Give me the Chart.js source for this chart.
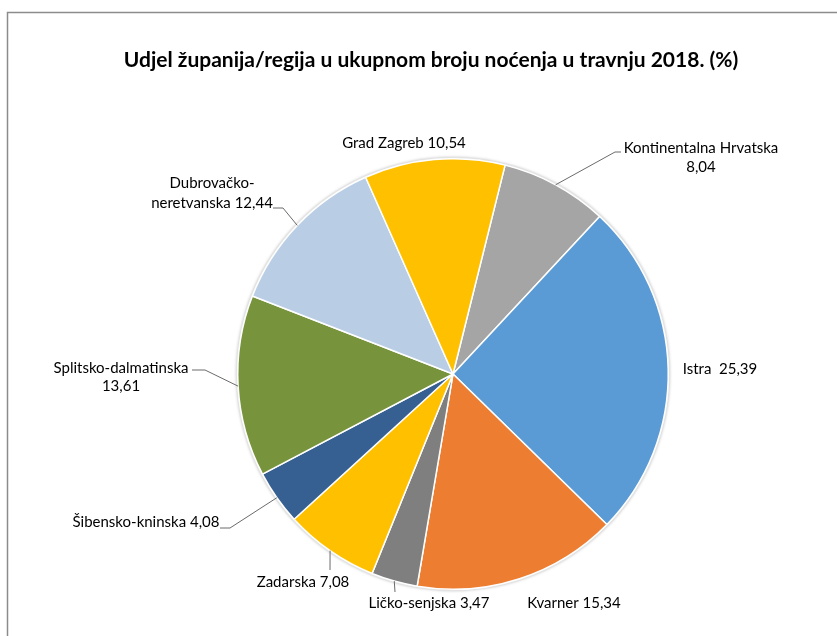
<!DOCTYPE html>
<html>
<head>
<meta charset="utf-8">
<script src="https://cdn.jsdelivr.net/npm/chart.js@4"></script>
<style>
html,body{margin:0;padding:0;background:#fff;}
#wrap{width:837px;height:636px;position:relative;}
</style>
</head>
<body>
<div id="wrap"><canvas id="c" width="837" height="636"></canvas></div>
<script>
// ---- data ----
const categories = ["Kontinentalna Hrvatska","Istra","Kvarner","Ličko-senjska","Zadarska","Šibensko-kninska","Splitsko-dalmatinska","Dubrovačko-neretvanska","Grad Zagreb"];
const shares = [8.04, 25.39, 15.34, 3.47, 7.08, 4.08, 13.61, 12.44, 10.54];
const valueLabels = ["8,04","25,39","15,34","3,47","7,08","4,08","13,61","12,44","10,54"];
const sliceColors = ["#A5A5A5","#5B9BD5","#ED7D31","#7F7F7F","#FFC000","#376092","#77933C","#B9CDE5","#FFC000"];
const titleText = "Udjel županija/regija u ukupnom broju noćenja u travnju 2018. (%)";

// ---- label layout (text placement & leader elbows) ----
const labelLayout = [
  {lines:["Kontinentalna Hrvatska","8,04"], x:701, y:[148,167], leader:[[615,152],[621,152]]},
  {lines:["Istra  25,39"], x:720, y:[369], leader:null},
  {lines:["Kvarner 15,34"], x:574, y:[603], leader:null},
  {lines:["Ličko-senjska 3,47"], x:429, y:[603], leader:[[395,592]]},
  {lines:["Zadarska 7,08"], x:303, y:[582], leader:[[330,570]]},
  {lines:["Šibensko-kninska 4,08"], x:146, y:[522], leader:[[230,528],[220,528]]},
  {lines:["Splitsko-dalmatinska","13,61"], x:121, y:[368,386], leader:[[205,370],[192,370]]},
  {lines:["Dubrovačko-","neretvanska 12,44"], x:212, y:[183,203], leader:[[283,208],[273,208]]},
  {lines:["Grad Zagreb 10,54"], x:404, y:[143], leader:null}
];

const FONT = "Lato, 'Open Sans', sans-serif";

const decor = {
  id:'decor',
  beforeDraw(chart){
    const ctx = chart.ctx;
    ctx.save();
    ctx.fillStyle = '#fff';
    ctx.fillRect(0,0,chart.width,chart.height);
    // frame
    ctx.strokeStyle = '#8c8c8c';
    ctx.lineWidth = 1.5;
    ctx.strokeRect(7.5, 12.5, 900, 700);
    // title
    ctx.fillStyle = '#000';
    ctx.font = "bold 21px " + FONT;
    ctx.textAlign = 'center';
    ctx.textBaseline = 'middle';
    ctx.fillText(titleText, 431, 60);
    ctx.restore();
  },
  beforeDatasetsDraw(chart){
    const meta = chart.getDatasetMeta(0);
    const a = meta.data[0];
    if(!a) return;
    const ctx = chart.ctx;
    ctx.save();
    ctx.shadowColor = 'rgba(0,0,0,0.25)';
    ctx.shadowBlur = 3;
    ctx.fillStyle = '#e6e6e6';
    ctx.beginPath();
    ctx.arc(a.x, a.y, a.outerRadius + 1.5, 0, Math.PI*2);
    ctx.fill();
    ctx.restore();
  },
  afterDatasetsDraw(chart){
    const meta = chart.getDatasetMeta(0);
    const ctx = chart.ctx;
    ctx.save();
    meta.data.forEach((arc, i) => {
      const L = labelLayout[i];
      if(L.leader){
        const mid = (arc.startAngle + arc.endAngle)/2;
        const px = arc.x + Math.cos(mid)*arc.outerRadius;
        const py = arc.y + Math.sin(mid)*arc.outerRadius;
        ctx.strokeStyle = '#6b6b6b';
        ctx.lineWidth = 1;
        ctx.beginPath();
        ctx.moveTo(px, py);
        L.leader.forEach(p => ctx.lineTo(p[0], p[1]));
        ctx.stroke();
      }
      ctx.fillStyle = '#000';
      ctx.font = "15px " + FONT;
      ctx.textAlign = 'center';
      ctx.textBaseline = 'middle';
      L.lines.forEach((t, k) => ctx.fillText(t, L.x, L.y[k]));
    });
    ctx.restore();
  }
};

new Chart(document.getElementById('c'), {
  type:'pie',
  data:{
    labels:categories,
    datasets:[{
      data:shares,
      backgroundColor:sliceColors,
      borderColor:'#ffffff',
      borderWidth:1.5
    }]
  },
  options:{
    responsive:false,
    animation:false,
    rotation:14,
    layout:{padding:{top:158,bottom:46,left:237,right:168}},
    plugins:{legend:{display:false},title:{display:false},tooltip:{enabled:false}}
  },
  plugins:[decor]
});
</script>
</body>
</html>
